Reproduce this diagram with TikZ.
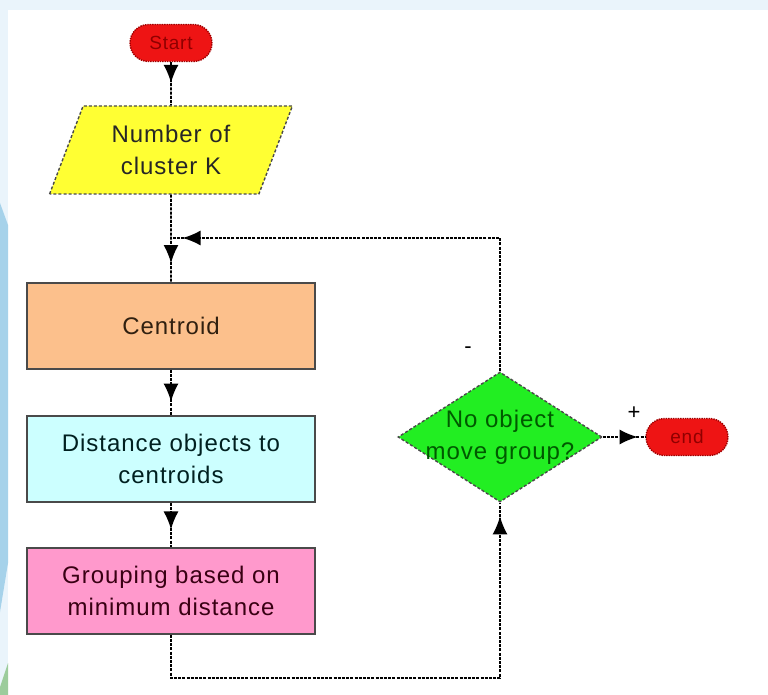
\documentclass[tikz,border=0pt]{standalone}
\usepackage{fontspec}
\setmainfont[LetterSpace=4]{Liberation Sans}
\usetikzlibrary{shapes.geometric,shapes.misc,decorations.markings,arrows.meta}

\definecolor{pagebg}{HTML}{EAF4FB}
\definecolor{bandblue}{HTML}{A6D2EA}
\definecolor{bandgreen}{HTML}{9CCC9C}
\definecolor{termred}{HTML}{EE1414}
\definecolor{termedge}{HTML}{A00000}
\definecolor{termtext}{HTML}{900000}
\definecolor{inyellow}{HTML}{FFFF33}
\definecolor{peach}{HTML}{FCC08C}
\definecolor{lightcyan}{HTML}{CCFFFF}
\definecolor{pinkbox}{HTML}{FF99CC}
\definecolor{decgreen}{HTML}{22EE22}
\definecolor{boxedge}{HTML}{4A4A4A}

\begin{document}
\begin{tikzpicture}[x=1pt, y=-1pt,
  bodyfont/.style={font=\fontsize{24}{32}\selectfont},
  terminal/.style={rounded rectangle, draw=termedge, densely dotted, line width=1.4pt,
    fill=termred, text=termtext, minimum width=82pt, minimum height=37pt,
    inner sep=0pt, font=\fontsize{19}{22}\selectfont},
  iobox/.style={trapezium, trapezium left angle=67, trapezium right angle=113,
    trapezium stretches=true, minimum width=243pt, minimum height=88pt,
    draw=boxedge, densely dashed, line width=1.4pt, fill=inyellow, text=black!85,
    align=center, bodyfont},
  process/.style={rectangle, draw=boxedge, line width=1.4pt, minimum width=288pt,
    minimum height=86pt, align=center, bodyfont},
  decision/.style={diamond, draw=boxedge, densely dashed, line width=1.4pt,
    fill=decgreen, minimum width=204pt, minimum height=130pt, inner sep=0pt},
  dectext/.style={align=center, text=green!35!black, bodyfont},
  signlabel/.style={inner sep=0pt, font=\fontsize{22}{24}\selectfont},
  flow/.style={draw=black, line width=1.6pt, dash pattern=on 3pt off 1.2pt},
  midarrow/.style={postaction={decorate}, decoration={markings,
    mark=at position #1 with {\arrow{Latex[length=18pt,width=15pt]}}}}]
\useasboundingbox (0,0) rectangle (768,695);
\fill[pagebg] (0,0) rectangle (768,695);
\fill[white] (8,10) rectangle (768,695);
\fill[bandblue] (0,203) -- (8,225) -- (8,563) -- (0,612) -- cycle;
\fill[bandgreen] (8,663) -- (8,695) -- (0,695) -- (0,687) -- cycle;

\node[terminal] (start) at (171,43) {Start};
\node[iobox] (input) at (171,150) {Number of\\cluster K};
\node[process, fill=peach, text=black!75!brown] (centroid) at (171,326) {Centroid};
\node[process, fill=lightcyan, text=black!75!teal] (dist) at (171,459) {Distance objects to\\centroids};
\node[process, fill=pinkbox, text=black!70!purple] (group) at (171,591) {Grouping based on\\minimum distance};
\node[decision, label={[dectext]center:{No object\\move group?}}] (dec) at (500,437) {};
\node[terminal] (end) at (687,437) {end};
\node[signlabel] (minus) at (468,350) {-};
\node[signlabel] (plus) at (634,413) {+};

\coordinate (loopjoin) at (171,238);
\coordinate (loopfoot) at (500,678);

\draw[flow, midarrow=0.48] (start) -- (input);
\draw[flow, midarrow=0.78] (input) -- (centroid);
\draw[flow, midarrow=0.7] (centroid) -- (dist);
\draw[flow, midarrow=0.6] (dist) -- (group);
\draw[flow, midarrow=0.975] (group.south) |- (loopfoot) -- (dec.south);
\draw[flow, midarrow=0.975] (dec.north) |- (loopjoin);
\draw[flow, midarrow=0.82] (dec.east) -- (end.west);
\end{tikzpicture}
\end{document}
